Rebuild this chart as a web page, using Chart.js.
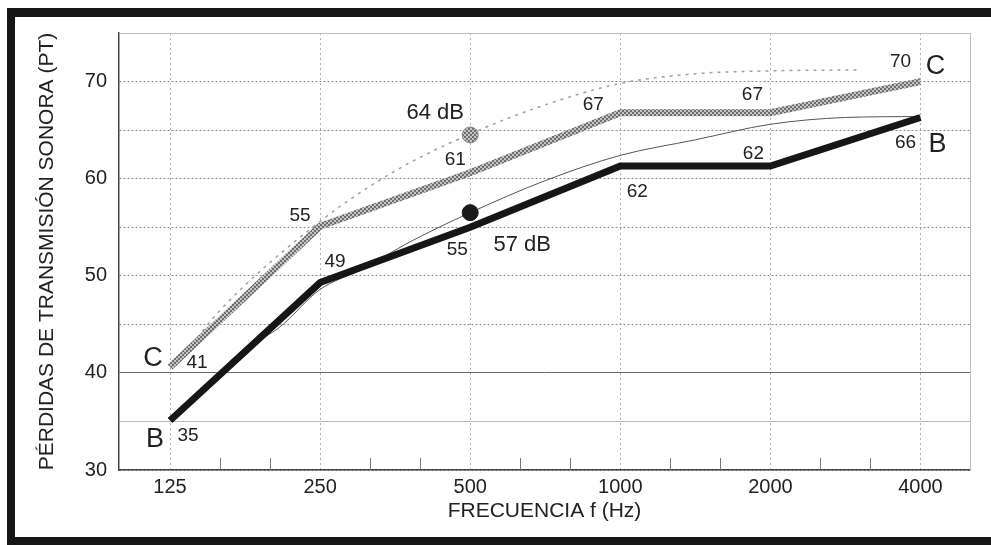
<!DOCTYPE html>
<html>
<head>
<meta charset="utf-8">
<script src="https://cdn.jsdelivr.net/npm/chart.js@4.4.1/dist/chart.umd.min.js"></script>
<style>
  html, body { margin: 0; padding: 0; background: #fff; overflow: hidden; }
  .wrap { position: relative; width: 991px; height: 545px; }
  .frame {
    position: absolute; left: 7px; top: 8px; right: -30px; height: 537px;
    box-sizing: border-box; border: 8px solid #161616; border-top-width: 9px;
    pointer-events: none;
  }
</style>
</head>
<body>
<div class="wrap">
  <canvas id="chart" width="991" height="545"></canvas>
  <div class="frame"></div>
</div>
<script>
// octave bands
const freqLabels = ["125", "250", "500", "1000", "2000", "4000"];
const octaves = [0, 1, 2, 3, 4, 5];

// measured curves C (grey) and B (black)
const curveC = [40.6, 55.1, 60.6, 66.8, 66.8, 70.0];
const curveB = [35.1, 49.3, 55.0, 61.3, 61.3, 66.3];
const cLabels = ["41", "55", "61", "67", "67", "70"];
const bLabels = ["35", "49", "55", "62", "62", "66"];

// reference contours
const refCOct = [0.15, 0.33, 1, 1.5, 2, 2.5, 3, 3.5, 4, 4.6];
const refCVal = [43.0, 46.4, 55.6, 60.8, 64.6, 67.6, 69.8, 70.8, 71.1, 71.2];
const refBOct = [0.6, 0.73, 1, 1.27, 1.6, 2, 2.5, 3, 3.5, 4, 4.5, 5];
const refBVal = [43.4, 44.7, 48.6, 50.6, 53.5, 56.5, 59.8, 62.4, 64.0, 65.6, 66.3, 66.4];

// rated values at 500 Hz
const ratedOct = 2;
const ratedC = 64.5;
const ratedB = 56.5;
const ratedText = ["64 dB", "57 dB"];

const FONT = "'Liberation Sans', Arial, sans-serif";
const ink = "#222";

// hatched grey for curve C
function makeHatch() {
  const c = document.createElement("canvas");
  c.width = 4; c.height = 4;
  const g = c.getContext("2d");
  g.fillStyle = "#c4c4c4";
  g.fillRect(0, 0, 4, 4);
  g.fillStyle = "#6e6e6e";
  g.fillRect(0, 0, 2, 2);
  g.fillRect(2, 2, 2, 2);
  return g.createPattern(c, "repeat");
}
const hatch = makeHatch();

const toXY = (xs, ys) => xs.map((x, i) => ({ x: x, y: ys[i] }));

// extra drawing: plot frame, minor ticks, labels
const decor = {
  id: "decor",
  beforeDatasetsDraw(chart) {
    const { ctx, chartArea: a, scales: { x } } = chart;
    ctx.save();
    ctx.strokeStyle = "#bdbdbd";
    ctx.lineWidth = 1;
    ctx.beginPath();
    ctx.moveTo(a.left, a.top + 0.5);
    ctx.lineTo(a.right + 0.5, a.top + 0.5);
    ctx.lineTo(a.right + 0.5, a.bottom);
    ctx.stroke();
    // third-octave ticks
    ctx.strokeStyle = "#777";
    octaves.forEach(o => {
      [1 / 3, 2 / 3].forEach(f => {
        const v = o + f;
        if (v > x.max) return;
        const px = Math.round(x.getPixelForValue(v)) + 0.5;
        ctx.beginPath();
        ctx.moveTo(px, a.bottom);
        ctx.lineTo(px, a.bottom - 12);
        ctx.stroke();
      });
    });
    ctx.restore();
  },
  afterDatasetsDraw(chart) {
    const { ctx, scales: { x, y } } = chart;
    const cOff = [[27, -4], [-20, -10], [-15, -13], [-27, -8], [-18, -18], [-20, -20]];
    const bOff = [[18, 15], [15, -21], [-13, 23], [17, 26], [-17, -12], [-15, 25]];
    ctx.save();
    ctx.fillStyle = ink;
    ctx.textAlign = "center";
    ctx.textBaseline = "middle";
    ctx.font = "19px " + FONT;
    octaves.forEach((o, i) => {
      ctx.fillText(cLabels[i], x.getPixelForValue(o) + cOff[i][0], y.getPixelForValue(curveC[i]) + cOff[i][1]);
      ctx.fillText(bLabels[i], x.getPixelForValue(o) + bOff[i][0], y.getPixelForValue(curveB[i]) + bOff[i][1]);
    });
    // curve names
    ctx.font = "27px " + FONT;
    const last = octaves.length - 1;
    ctx.fillText("C", x.getPixelForValue(octaves[last]) + 15, y.getPixelForValue(curveC[last]) - 15);
    ctx.fillText("B", x.getPixelForValue(octaves[last]) + 17, y.getPixelForValue(curveB[last]) + 27);
    ctx.fillText("C", x.getPixelForValue(octaves[0]) - 17, y.getPixelForValue(curveC[0]) - 9);
    ctx.fillText("B", x.getPixelForValue(octaves[0]) - 15, y.getPixelForValue(curveB[0]) + 19);
    // rated values
    ctx.font = "22px " + FONT;
    ctx.fillText(ratedText[0], x.getPixelForValue(ratedOct) - 35, y.getPixelForValue(ratedC) - 22);
    ctx.fillText(ratedText[1], x.getPixelForValue(ratedOct) + 52, y.getPixelForValue(ratedB) + 32);
    ctx.restore();
  }
};

new Chart(document.getElementById("chart"), {
  type: "line",
  data: {
    datasets: [
      {
        data: [{ x: ratedOct, y: ratedC }],
        showLine: false, pointRadius: 8, pointBackgroundColor: hatch,
        pointBorderColor: "#8a8a8a", pointBorderWidth: 1
      },
      {
        data: [{ x: ratedOct, y: ratedB }],
        showLine: false, pointRadius: 8, pointBackgroundColor: "#1a1a1a",
        pointBorderColor: "#1a1a1a", pointBorderWidth: 1
      },
      {
        data: toXY(octaves, curveB),
        borderColor: "#161616", borderWidth: 7, pointRadius: 0,
        borderJoinStyle: "miter", borderCapStyle: "butt"
      },
      {
        data: toXY(octaves, curveC),
        borderColor: hatch, borderWidth: 7, pointRadius: 0,
        borderJoinStyle: "miter", borderCapStyle: "butt"
      },
      {
        data: toXY(refBOct, refBVal),
        borderColor: "#555", borderWidth: 1, pointRadius: 0,
        cubicInterpolationMode: "monotone"
      },
      {
        data: toXY(refCOct, refCVal),
        borderColor: "#a0a0a0", borderWidth: 1.5, borderDash: [3, 5], pointRadius: 0,
        cubicInterpolationMode: "monotone"
      }
    ]
  },
  options: {
    responsive: false,
    animation: false,
    events: [],
    layout: { padding: { top: 33, right: 21, left: 0, bottom: 0 } },
    plugins: { legend: { display: false }, tooltip: { enabled: false } },
    scales: {
      x: {
        type: "linear",
        min: -0.34,
        max: 5.33,
        afterBuildTicks: s => { s.ticks = octaves.map(v => ({ value: v })); },
        afterFit: s => { s.height = 75; },
        ticks: {
          padding: 5, color: ink, font: { family: FONT, size: 20 },
          callback: v => freqLabels[v]
        },
        grid: { color: "#b0b0b0", lineWidth: 1, drawTicks: false },
        border: { display: true, color: "#444", width: 1.5, dash: [2, 3] },
        title: {
          display: true, text: "FRECUENCIA f (Hz)", color: ink,
          font: { family: FONT, size: 21 }, padding: { top: 0, bottom: 21 }
        }
      },
      y: {
        min: 30,
        max: 75,
        afterFit: s => { s.width = 119; },
        ticks: {
          stepSize: 5, padding: 12, color: ink, font: { family: FONT, size: 20 },
          callback: v => (v % 10 === 0 ? String(v) : "")
        },
        grid: {
          drawTicks: false,
          lineWidth: 1,
          color: c => (c.tick && c.tick.value === 40 ? "#6a6a6a" : c.tick && c.tick.value === 35 ? "#b8b8b8" : "#8a8a8a")
        },
        border: {
          display: true, color: "#444", width: 1.5,
          dash: c => (c.tick && (c.tick.value === 40 || c.tick.value === 35 || c.tick.value === 75) ? [] : [2, 2])
        },
        title: {
          display: true, text: "PÉRDIDAS DE TRANSMISIÓN SONORA (PT)", color: ink,
          font: { family: FONT, size: 21 }, padding: { top: 35, bottom: 0 }
        }
      }
    }
  },
  plugins: [decor]
});
</script>
</body>
</html>
